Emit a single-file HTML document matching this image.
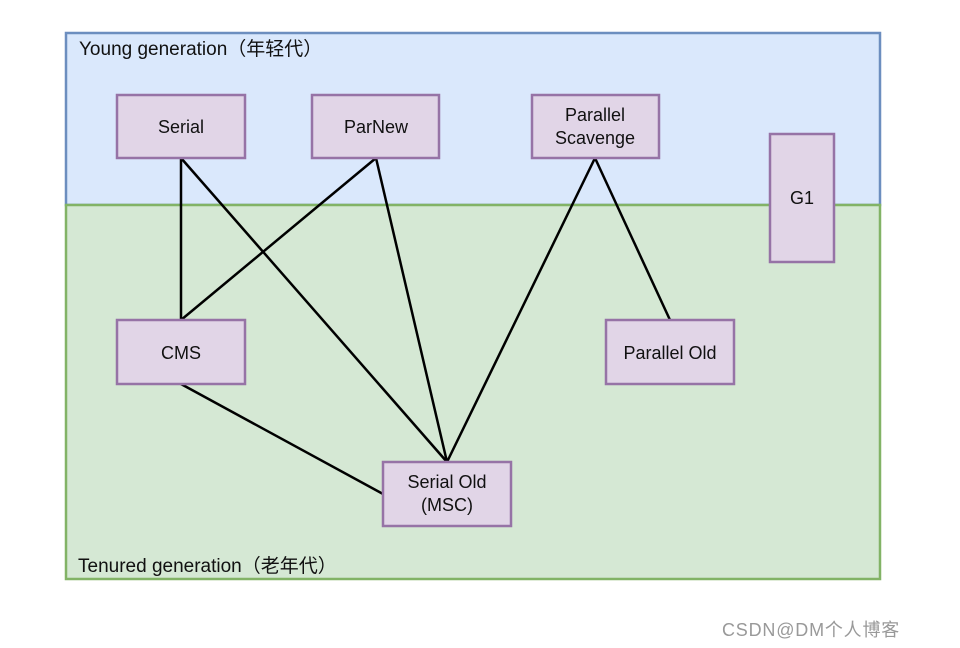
<!DOCTYPE html>
<html><head><meta charset="utf-8"><style>
html,body{margin:0;padding:0;background:#fff;}
svg{display:block;}
text{font-family:"Liberation Sans","Noto Sans CJK SC",sans-serif;fill:#111;}
</style></head><body>
<svg width="960" height="648" viewBox="0 0 960 648" xmlns="http://www.w3.org/2000/svg">
<rect x="0" y="0" width="960" height="648" fill="#fff"/>
<rect x="66" y="33" width="814" height="172" fill="#dae8fc" stroke="#6c8ebf" stroke-width="2.5"/>
<rect x="66" y="205" width="814" height="374" fill="#d5e8d4" stroke="#82b366" stroke-width="2.5"/>
<text x="79" y="55" font-size="19">Young generation（年轻代）</text>
<text x="78" y="572" font-size="19">Tenured generation（老年代）</text>
<g stroke="#000" stroke-width="2.5" fill="none">
<line x1="181" y1="158" x2="181" y2="320"/>
<line x1="181" y1="158" x2="447" y2="462"/>
<line x1="376" y1="158" x2="181" y2="320"/>
<line x1="376" y1="158" x2="447" y2="462"/>
<line x1="595" y1="158" x2="447" y2="462"/>
<line x1="595" y1="158" x2="670" y2="320"/>
<line x1="181" y1="384" x2="383" y2="494"/>
</g>
<g fill="#e1d5e7" stroke="#9673a6" stroke-width="2.5">
<rect x="117" y="95" width="128" height="63"/>
<rect x="312" y="95" width="127" height="63"/>
<rect x="532" y="95" width="127" height="63"/>
<rect x="770" y="134" width="64" height="128"/>
<rect x="117" y="320" width="128" height="64"/>
<rect x="606" y="320" width="128" height="64"/>
<rect x="383" y="462" width="128" height="64"/>
</g>
<g font-size="18" text-anchor="middle">
<text x="181" y="133">Serial</text>
<text x="376" y="133">ParNew</text>
<text x="595" y="121">Parallel</text>
<text x="595" y="144">Scavenge</text>
<text x="802" y="204">G1</text>
<text x="181" y="359">CMS</text>
<text x="670" y="359">Parallel Old</text>
<text x="447" y="488">Serial Old</text>
<text x="447" y="511">(MSC)</text>
</g>
<text x="722" y="636" font-size="18" letter-spacing="0.8" style="fill:#999">CSDN@DM个人博客</text>
</svg>
</body></html>
